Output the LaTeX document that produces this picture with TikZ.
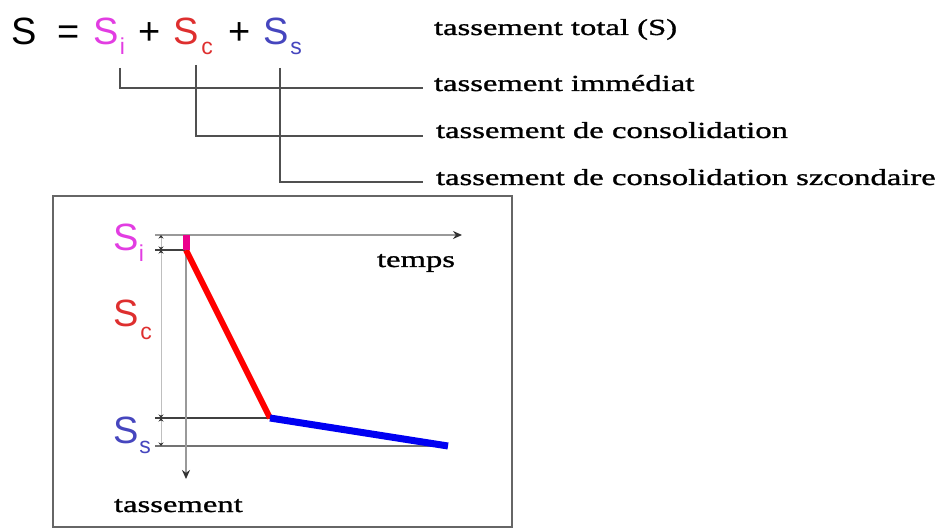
\documentclass[tikz,border=0pt]{standalone}
\usepackage{fontspec}
\setmainfont{Liberation Serif}[FakeStretch=1.42,FakeBold=1.2]
\newfontfamily\arialf{Liberation Sans}
\usetikzlibrary{arrows.meta}
\definecolor{cmag}{HTML}{E23DE2}
\definecolor{cred}{HTML}{DE2F2F}
\definecolor{cblue}{HTML}{4646BE}
\definecolor{conn}{HTML}{505050}
\definecolor{boxc}{HTML}{666666}
\newcommand{\bigS}[4]{{\arialf\fontsize{38bp}{40bp}\selectfont\color{#1}S\kern#4bp\raisebox{-#3bp}{\fontsize{23bp}{24bp}\selectfont #2}}}
\tikzset{
  lab/.style={anchor=base west, inner sep=0pt, outer sep=0pt, font=\fontsize{23bp}{26bp}\selectfont},
  eqn/.style={anchor=base west, inner sep=0pt, outer sep=0pt, font=\arialf\fontsize{38bp}{40bp}\selectfont},
  connector/.style={draw=conn, line width=2bp},
  axis/.style={draw=gray!80, line width=1.6bp, -{Stealth[length=9bp,width=8bp,color=black!80]}},
  guide/.style={draw=black!75, line width=1.3bp},
  dimarr/.style={draw=black!25, line width=1bp, {Stealth[length=3.5bp,width=5bp,color=black!80]}-{Stealth[length=3.5bp,width=5bp,color=black!80]}},
}
\begin{document}
\begin{tikzpicture}[x=1bp,y=-1bp]
\useasboundingbox (0,0) rectangle (946,528);
% equation
\node[eqn] (stot) at (11,45) {S};
\node[eqn] (eq) at (57,45) {=};
\node[eqn] (si) at (93,45) {\bigS{cmag}{i}{10}{1.5}};
\node[eqn] (p1) at (138,45) {+};
\node[eqn] (sc) at (173,45) {\bigS{cred}{c}{10}{3}};
\node[eqn] (p2) at (228,45) {+};
\node[eqn] (ss) at (263,45) {\bigS{cblue}{s}{10}{2}};
% labels
\node[lab] (l0) at (434,35) {tassement total (S)};
\node[lab] (l1) at (434,91) {tassement immédiat};
\node[lab] (l2) at (436,138) {tassement de consolidation};
\node[lab] (l3) at (436,185) {tassement de consolidation szcondaire};
% connectors
\coordinate (a1) at (120,68);
\coordinate (a2) at (196,65);
\coordinate (a3) at (280,68);
\coordinate (e1) at (423,88);
\coordinate (e2) at (423,136);
\coordinate (e3) at (423,182);
\draw[connector] (a1) |- (e1);
\draw[connector] (a2) |- (e2);
\draw[connector] (a3) |- (e3);
% box
\draw[draw=boxc, line width=2bp] (53,196) rectangle (512,527);
% graph
\coordinate (o) at (186,235);
\coordinate (tend) at (462,235);
\coordinate (send) at (186,479);
\coordinate (p0) at (186,250);
\coordinate (pk) at (270,418);
\coordinate (pf) at (448,446);
\draw[guide] (155,250) -- (p0);
\draw[guide] (155,418) -- (pk);
\draw[draw=black!55, line width=1.6bp] (155,446) -- (pf);
\draw[axis] (155,235) -- (tend);
\draw[axis] (o) -- (send);
\draw[dimarr] (161,235) -- (161,250);
\draw[dimarr] (161,250) -- (161,418);
\draw[dimarr] (161,418) -- (161,446);
\draw[line width=6bp, draw=red] (p0) -- (pk);
\draw[line width=7bp, draw=blue!95!black] (pk) -- (pf);
\draw[line width=7bp, draw=magenta] (o) -- (p0);
\node[eqn] (gsi) at (113,251) {\bigS{cmag}{i}{11}{0.5}};
\node[eqn] (gsc) at (113,327) {\bigS{cred}{c}{13}{2}};
\node[eqn] (gss) at (113,443) {\bigS{cblue}{s}{10}{1}};
\node[lab] (temps) at (377,267) {temps};
\node[lab] (tass) at (114,512) {tassement};
\end{tikzpicture}
\end{document}
